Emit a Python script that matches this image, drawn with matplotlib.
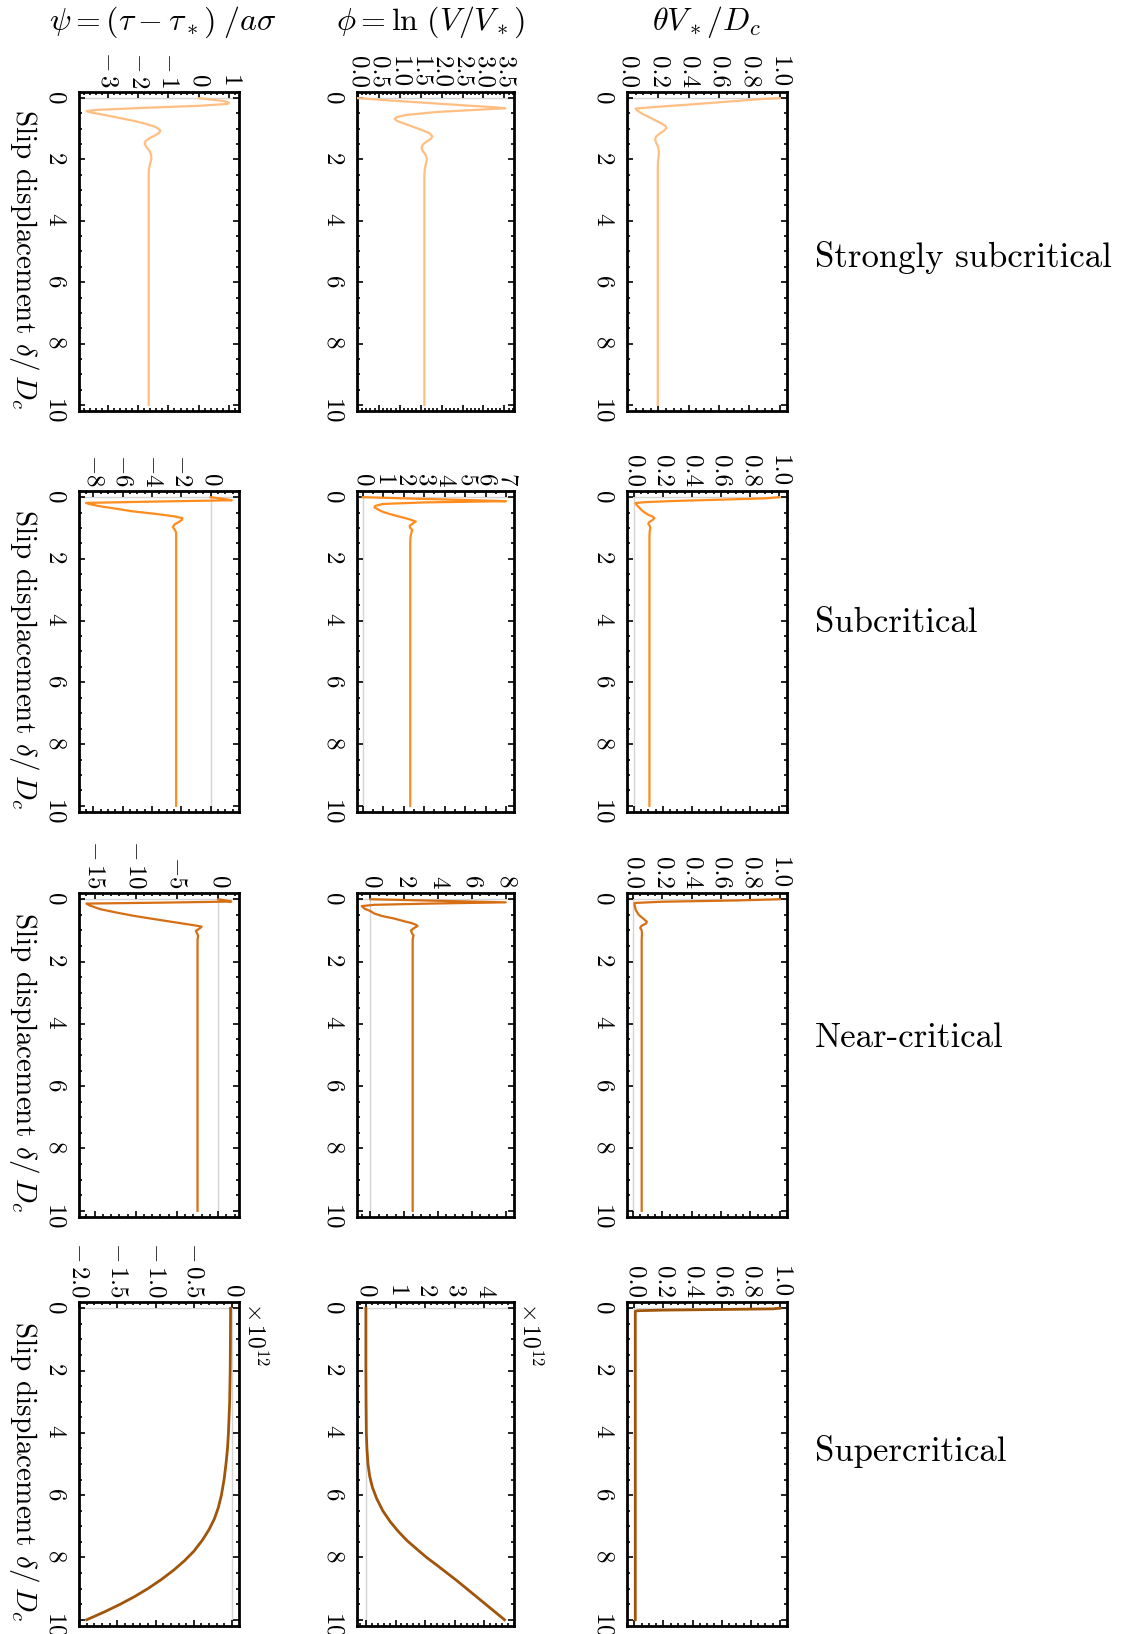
import matplotlib
matplotlib.use('Agg')
import matplotlib.pyplot as plt
from matplotlib.ticker import FixedLocator, FixedFormatter, MultipleLocator

plt.rcParams['font.family'] = 'cmr10'
plt.rcParams['mathtext.fontset'] = 'cm'
plt.rcParams['axes.formatter.use_mathtext'] = True

# --- data (slip delta/Dc vs. variable) ---
regimes = ['Strongly subcritical', 'Subcritical', 'Near-critical', 'Supercritical']
titles = [r'$\psi = (\tau - \tau_*)\;/a\sigma$',
          r'$\phi = \ln\,(V/V_*)$',
          r'$\theta V_*/D_c$']
colors = ['#FFBE82', '#FF8C1E', '#D66E14', '#A0550A']

# strongly subcritical
ss_psi_slip = [0, 0.05, 0.10, 0.15, 0.19, 0.25, 0.32, 0.38, 0.42, 0.47, 0.55, 0.65, 0.75, 0.85,
               0.95, 1.05, 1.13, 1.22, 1.32, 1.42, 1.50, 1.60, 1.72, 1.85, 1.98, 2.12, 2.3, 2.5, 3.0, 10]
ss_psi = [0, 0.45, 0.85, 1.0, 0.95, 0.0, -1.9, -3.3, -3.7, -3.55, -3.1, -2.6, -2.1, -1.7,
          -1.4, -1.27, -1.3, -1.45, -1.65, -1.77, -1.78, -1.72, -1.62, -1.57, -1.56, -1.6, -1.64, -1.65, -1.65, -1.65]
ss_phi_slip = [0, 0.08, 0.16, 0.24, 0.30, 0.33, 0.37, 0.45, 0.55, 0.62, 0.68, 0.75, 0.85, 0.95, 1.05,
               1.15, 1.25, 1.33, 1.42, 1.52, 1.62, 1.72, 1.85, 1.98, 2.12, 2.3, 2.5, 3.0, 10]
ss_phi = [0, 0.8, 1.7, 2.6, 3.3, 3.52, 3.0, 1.9, 1.15, 0.92, 0.88, 0.95, 1.15, 1.35, 1.55,
          1.72, 1.78, 1.74, 1.64, 1.55, 1.52, 1.55, 1.62, 1.65, 1.63, 1.6, 1.59, 1.59, 1.59]
ss_theta_slip = [0, 0.03, 0.09, 0.2, 0.28, 0.34, 0.4, 0.5, 0.6, 0.7, 0.8, 0.9, 0.97, 1.05, 1.15,
                 1.25, 1.34, 1.45, 1.58, 1.72, 1.88, 2.05, 2.25, 2.5, 3.0, 10]
ss_theta = [1.0, 0.88, 0.72, 0.43, 0.2, 0.05, 0.06, 0.09, 0.13, 0.17, 0.21, 0.245, 0.253, 0.24, 0.21,
            0.185, 0.178, 0.185, 0.197, 0.203, 0.202, 0.198, 0.196, 0.196, 0.196, 0.196]

# subcritical
sc_psi_slip = [0, 0.05, 0.1, 0.14, 0.185, 0.22, 0.29, 0.37, 0.46, 0.55, 0.62, 0.68, 0.73, 0.8,
               0.88, 0.97, 1.05, 1.15, 1.3, 1.5, 10]
sc_psi = [0, 0.8, 1.45, -3.5, -8.5, -8.3, -7.6, -6.5, -5.3, -3.6, -2.5, -1.92, -1.95, -2.15,
          -2.45, -2.58, -2.45, -2.35, -2.35, -2.35, -2.35]
sc_phi_slip = [0, 0.05, 0.1, 0.13, 0.17, 0.22, 0.28, 0.33, 0.4, 0.48, 0.56, 0.64, 0.72, 0.79,
               0.85, 0.92, 0.98, 1.06, 1.15, 1.3, 1.5, 10]
sc_phi = [0, 2.6, 5.5, 7.0, 3.0, 1.0, 0.62, 0.57, 0.75, 1.0, 1.4, 1.85, 2.3, 2.59,
          2.45, 2.3, 2.3, 2.42, 2.38, 2.33, 2.32, 2.32]
sc_theta_slip = [0.0, 0.04, 0.08, 0.12, 0.16, 0.19, 0.25, 0.32, 0.4, 0.48, 0.57, 0.63, 0.68, 0.74,
                 0.8, 0.86, 0.93, 1.0, 1.1, 1.28, 10]
sc_theta = [1.0, 0.9, 0.6, 0.3, 0.08, 0.012, 0.02, 0.035, 0.05, 0.07, 0.1, 0.13, 0.142, 0.13,
            0.108, 0.1, 0.11, 0.114, 0.11, 0.108, 0.108]

# near-critical
nc_psi_slip = [0, 0.04, 0.075, 0.11, 0.14, 0.2, 0.32, 0.43, 0.53, 0.62, 0.7, 0.8, 0.85, 0.88,
               0.93, 1.02, 1.1, 1.18, 1.3, 1.5, 10]
nc_psi = [0, 0.9, 1.6, -7, -16.0, -15.6, -14.3, -12.3, -10.3, -8.2, -6.25, -3.8, -2.6, -2.0,
          -2.2, -2.7, -2.55, -2.42, -2.5, -2.5, -2.5]
nc_phi_slip = [0, 0.05, 0.1, 0.14, 0.18, 0.22, 0.3, 0.38, 0.46, 0.54, 0.62, 0.7, 0.76, 0.82,
               0.86, 0.92, 1.0, 1.08, 1.16, 1.3, 1.5, 10]
nc_phi = [0, 4.0, 8.0, 3.5, 0.2, -0.51, -0.35, 0.0, 0.24, 0.7, 1.41, 1.95, 2.4, 2.7,
          2.79, 2.6, 2.4, 2.45, 2.55, 2.5, 2.5, 2.5]
nc_theta_slip = [0, 0.04, 0.08, 0.12, 0.2, 0.35, 0.5, 0.62, 0.72, 0.78, 0.85, 0.92, 1.0, 1.1, 1.3, 10]
nc_theta = [1.0, 0.7, 0.2, 0.012, 0.012, 0.02, 0.04, 0.07, 0.095, 0.09, 0.06, 0.05, 0.06, 0.062, 0.06, 0.06]

# supercritical (psi and phi reach ~1e12)
sp_psi_slip = [0, 1, 2, 3, 4, 4.5, 5.0, 5.5, 6.0, 6.4, 6.75, 7.1, 7.45, 7.8, 8.1, 8.4, 8.7,
               9.0, 9.25, 9.5, 9.75, 10]
sp_psi = [-0.02e12, -0.022e12, -0.025e12, -0.032e12, -0.048e12, -0.06e12, -0.08e12, -0.105e12,
          -0.14e12, -0.18e12, -0.23e12, -0.3e12, -0.39e12, -0.5e12, -0.62e12, -0.76e12, -0.92e12,
          -1.1e12, -1.27e12, -1.46e12, -1.67e12, -1.9e12]
sp_phi_slip = [0, 1, 2, 3, 4, 4.5, 5.0, 5.4, 5.75, 6.1, 6.5, 6.85, 7.15, 7.45, 7.7, 8.0, 8.25,
               8.5, 8.75, 9.0, 9.25, 9.5, 9.75, 10.0]
sp_phi = [0.0, 0.0, 0.0, 0.005e12, 0.015e12, 0.035e12, 0.07e12, 0.13e12, 0.22e12, 0.36e12,
          0.57e12, 0.82e12, 1.08e12, 1.38e12, 1.68e12, 2.05e12, 2.4e12, 2.74e12, 3.08e12,
          3.4e12, 3.72e12, 4.04e12, 4.36e12, 4.68e12]
sp_theta_slip = [0, 0.02, 0.04, 0.06, 0.08, 0.1, 10]
sp_theta = [1.0, 0.95, 0.6, 0.2, 0.02, 0.007, 0.007]

curves = [
    [(ss_psi_slip, ss_psi), (ss_phi_slip, ss_phi), (ss_theta_slip, ss_theta)],
    [(sc_psi_slip, sc_psi), (sc_phi_slip, sc_phi), (sc_theta_slip, sc_theta)],
    [(nc_psi_slip, nc_psi), (nc_phi_slip, nc_phi), (nc_theta_slip, nc_theta)],
    [(sp_psi_slip, sp_psi), (sp_phi_slip, sp_phi), (sp_theta_slip, sp_theta)],
]

theta_ticks = [0.0, 0.2, 0.4, 0.6, 0.8, 1.0]
theta_labels = ['0.0', '0.2', '0.4', '0.6', '0.8', '1.0']
value_ticks = [
    [([-3, -2, -1, 0, 1], ['$-\\,3$', '$-\\,2$', '$-\\,1$', '0', '1']),
     ([0, 0.5, 1, 1.5, 2, 2.5, 3, 3.5], ['0.0', '0.5', '1.0', '1.5', '2.0', '2.5', '3.0', '3.5']),
     (theta_ticks, theta_labels)],
    [([-8, -6, -4, -2, 0], ['$-8$', '$-6$', '$-4$', '$-2$', '0']),
     ([0, 1, 2, 3, 4, 5, 6, 7], ['0', '1', '2', '3', '4', '5', '6', '7']),
     (theta_ticks, theta_labels)],
    [([-15, -10, -5, 0], ['$-\\,15$', '$-\\,10$', '$-5$', '0']),
     ([0, 2, 4, 6, 8], ['0', '2', '4', '6', '8']),
     (theta_ticks, theta_labels)],
    [([-2.0, -1.5, -1.0, -0.5, 0], ['$-\\,2.0$', '$-\\,1.5$', '$-\\,1.0$', '$-\\,0.5$', '0']),
     ([0, 1, 2, 3, 4], ['0', '1', '2', '3', '4']),
     (theta_ticks, theta_labels)],
]
slip_ticks = [0, 2, 4, 6, 8, 10]

# --- layout (pixels of the 1123x1634 canvas) ---
W, H = 1123, 1634
col_x = [(79, 239), (357, 514), (627, 787)]
row_y = [(92, 411), (491, 812), (893, 1217), (1302, 1626)]
xlims = [
    [(-3.95, 1.33), (-0.02, 3.73), (-0.007, 1.048)],
    [(-8.98, 1.94), (-0.28, 7.39), (-0.046, 1.053)],
    [(-16.9, 2.54), (-0.79, 8.49), (-0.04, 1.05)],
    [(-2.0, 0.09), (-0.3, 5.0), (-0.05, 1.048)],
]
minor_steps = [[0.2, 0.1, 0.05], [0.5, 0.5, 0.05], [1, 0.5, 0.05], [0.1, 0.2, 0.05]]

fig = plt.figure(figsize=(W / 100, H / 100), dpi=100)

for r in range(4):
    for c in range(3):
        x0, x1 = col_x[c]
        y0, y1 = row_y[r]
        ax = fig.add_axes([x0 / W, 1 - y1 / H, (x1 - x0) / W, (y1 - y0) / H])
        slip, val = curves[r][c]
        scale = 1e12 if (r == 3 and c < 2) else 1.0
        ax.axhline(0, color='#d4d4d4', lw=1.0, zorder=1)
        if not (r == 0 and c == 0):
            ax.axvline(0, color='#d4d4d4', lw=1.0, zorder=1)
        ax.plot([v / scale for v in val], slip, color=colors[r], lw=1.6 if r < 3 else 2.0,
                zorder=3, solid_joinstyle='round')
        ax.set_xlim(*xlims[r][c])
        ax.set_ylim(10.2, -0.2)

        ticks, labels = value_ticks[r][c]
        ax.xaxis.set_major_locator(FixedLocator(ticks))
        ax.xaxis.set_major_formatter(FixedFormatter(labels))
        ax.xaxis.set_minor_locator(MultipleLocator(minor_steps[r][c]))
        ax.yaxis.set_major_locator(FixedLocator(slip_ticks))
        ax.yaxis.set_minor_locator(MultipleLocator(0.5))

        ax.tick_params(which='both', direction='in', top=True, bottom=True, left=True, right=True,
                       labeltop=True, labelbottom=False, labelleft=True, labelright=False,
                       width=1.2, colors='black')
        ax.tick_params(which='major', length=4.5)
        ax.tick_params(which='minor', length=2.5)
        ax.tick_params(axis='x', which='major', labelsize=18, labelrotation=270, pad=3)
        ax.tick_params(axis='y', which='major', labelsize=18, labelrotation=270, pad=9)
        for lab in ax.get_xticklabels():
            lab.set_verticalalignment('bottom')
        for sp in ax.spines.values():
            sp.set_linewidth(2.0)

        if scale != 1.0:
            ax.text(1.02, 1.0, r'$\times\,10^{12}$', transform=ax.transAxes, rotation=270,
                    ha='left', va='top', fontsize=17)

# column titles
title_x = [163, 431, 706]
for c in range(3):
    fig.text(title_x[c] / W, 1 - 22 / H, titles[c], ha='center', va='center', fontsize=23)

# row labels and slip axis labels
label_y = [257, 623, 1038, 1451]
for r in range(4):
    fig.text(815 / W, 1 - label_y[r] / H, regimes[r], ha='left', va='center', fontsize=25)
    yc = (row_y[r][0] + row_y[r][1]) / 2 + 7
    fig.text(24 / W, 1 - yc / H, r'Slip displacement $\delta/\,D_c$', rotation=270,
             ha='center', va='center', fontsize=21)

fig.savefig('out.png', dpi=100)
